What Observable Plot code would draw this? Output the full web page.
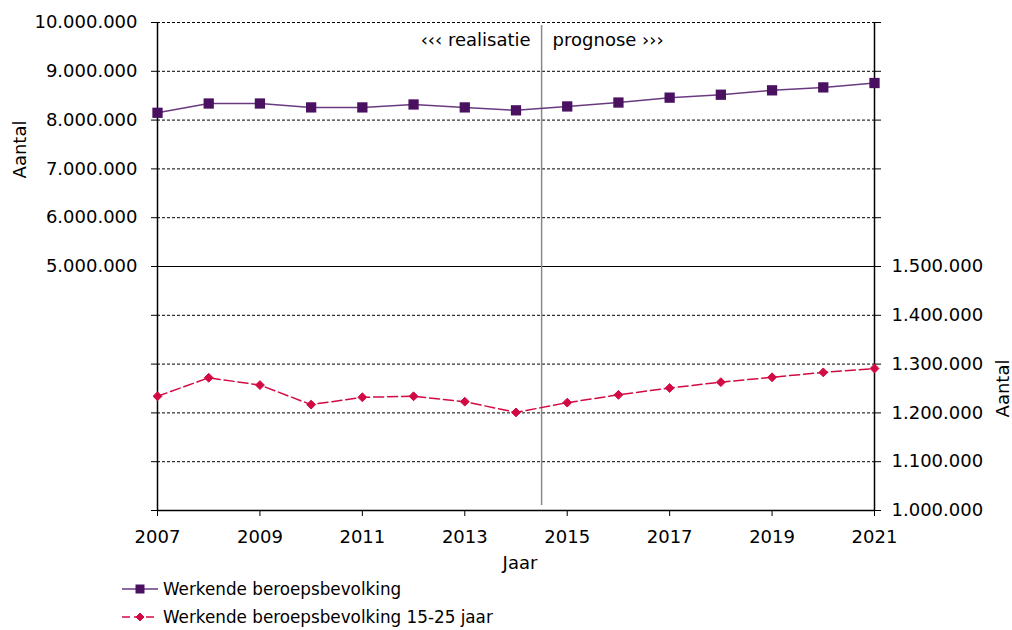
<!DOCTYPE html>
<html>
<head>
<meta charset="utf-8">
<script src="https://cdn.jsdelivr.net/npm/d3@7"></script>
<script src="https://cdn.jsdelivr.net/npm/@observablehq/plot@0.6"></script>
<style>
  html, body { margin: 0; padding: 0; background: #fff; }
  body { width: 1012px; height: 630px; overflow: hidden; font-family: "DejaVu Sans", Verdana, sans-serif; }
  #legend { padding-left: 122px; font-size: 16.8px; color: #000; }
  .row { height: 28px; display: flex; align-items: center; }
  .row svg { margin-right: 5px; }
</style>
</head>
<body>
<div id="chart"></div>
<div id="legend"></div>
<script>
const years = [2007, 2008, 2009, 2010, 2011, 2012, 2013, 2014, 2015, 2016, 2017, 2018, 2019, 2020, 2021];
const werkende = [8150000, 8340000, 8340000, 8260000, 8260000, 8320000, 8260000, 8200000, 8280000, 8360000, 8460000, 8520000, 8610000, 8670000, 8760000];
const jongeren = [1234000, 1272000, 1257000, 1217000, 1232000, 1234000, 1223000, 1201000, 1221000, 1237000, 1251000, 1263000, 1273000, 1283000, 1291000];
const xTicks = [2007, 2009, 2011, 2013, 2015, 2017, 2019, 2021];
const yTicks = [0, 1000000, 2000000, 3000000, 4000000, 5000000, 6000000, 7000000, 8000000, 9000000, 10000000];
const seriesNames = ["Werkende beroepsbevolking", "Werkende beroepsbevolking 15-25 jaar"];

const purple = "#4b1161";
const purpleLine = "#6a3a80";
const red = "#d20a43";

const rows = years.map((y, i) => ({year: y, werkende: werkende[i], jongeren: jongeren[i]}));
// right axis: 1.000.000 .. 1.500.000 occupies the lower half of the left 0..10.000.000 scale
const toLeft = v => (v - 1000000) * 10;
const toRight = v => 1000000 + v / 10;

const fmt = d3.formatLocale({decimal: ",", thousands: ".", grouping: [3], currency: ["", ""]}).format(",");

const chart = Plot.plot({
  width: 1012,
  height: 575,
  marginLeft: 157,
  marginRight: 138,
  marginTop: 22,
  marginBottom: 65,
  style: {fontFamily: "DejaVu Sans, Verdana, sans-serif", fontSize: "18px", color: "#000", background: "#fff", overflow: "visible"},
  x: {domain: [2007, 2021]},
  y: {domain: [0, 10000000]},
  marks: [
    Plot.ruleY(yTicks.filter(d => d > 0 && d !== 5000000), {stroke: "#000", strokeDasharray: "3,2", strokeWidth: 1}),
    Plot.ruleY([5000000], {stroke: "#000", strokeWidth: 1.2}),
    Plot.ruleX([2014.5], {y1: 100000, y2: 9940000, stroke: "#8a8a8a", strokeWidth: 1.5}),
    Plot.axisX(xTicks, {tickSize: 6, tickPadding: 14, tickFormat: d => String(d), label: null, fontSize: 18}),
    Plot.axisY(yTicks, {anchor: "left", tickSize: 6, tickPadding: 14, tickFormat: d => d >= 5000000 ? fmt(d) : "", label: null, fontSize: 18}),
    Plot.axisY(yTicks, {anchor: "right", tickSize: 6, tickPadding: 11, tickFormat: d => d <= 5000000 ? fmt(toRight(d)) : "", label: null, fontSize: 18}),
    Plot.ruleX([2007, 2021], {stroke: "#000", strokeWidth: 1.5}),
    Plot.ruleY([0], {stroke: "#000", strokeWidth: 1.5}),
    Plot.line(rows, {x: "year", y: "werkende", stroke: purpleLine, strokeWidth: 1.5}),
    Plot.dot(rows, {x: "year", y: "werkende", symbol: "square", r: 5.8, fill: purple, stroke: "none"}),
    Plot.line(rows, {x: "year", y: d => toLeft(d.jongeren), stroke: red, strokeWidth: 1.5, strokeDasharray: "10,4"}),
    Plot.dot(rows, {x: "year", y: d => toLeft(d.jongeren), symbol: "diamond2", r: 4, fill: red, stroke: red, strokeWidth: 1}),
    Plot.text(["‹‹‹ realisatie"], {x: 2014.5, y: 9630000, dx: -11, textAnchor: "end", fontSize: 18}),
    Plot.text(["prognose ›››"], {x: 2014.5, y: 9630000, dx: 11, textAnchor: "start", fontSize: 18}),
    Plot.text(["Jaar"], {frameAnchor: "bottom", dx: 4, dy: 53, textAnchor: "middle", lineAnchor: "middle", fontSize: 18}),
    Plot.text(["Aantal"], {frameAnchor: "top-left", dx: -137, dy: 127, rotate: -90, textAnchor: "middle", lineAnchor: "middle", fontSize: 18}),
    Plot.text(["Aantal"], {frameAnchor: "top-right", dx: 129, dy: 366, rotate: -90, textAnchor: "middle", lineAnchor: "middle", fontSize: 18})
  ]
});
document.getElementById("chart").appendChild(chart);

// legend
const legend = d3.select("#legend");
seriesNames.forEach((name, i) => {
  const row = legend.append("div").attr("class", "row");
  const sw = row.append("svg").attr("width", 36).attr("height", 14);
  if (i === 0) {
    sw.append("line").attr("x1", 0).attr("x2", 36).attr("y1", 7).attr("y2", 7).attr("stroke", purpleLine).attr("stroke-width", 1.5);
    sw.append("rect").attr("x", 13.5).attr("y", 2.5).attr("width", 9).attr("height", 9).attr("fill", purple);
  } else {
    sw.append("line").attr("x1", 0).attr("x2", 36).attr("y1", 7).attr("y2", 7).attr("stroke", red).attr("stroke-width", 1.5).attr("stroke-dasharray", "8,4");
    sw.append("path").attr("d", d3.symbol(d3.symbolDiamond2, 40)()).attr("transform", "translate(18,7)").attr("fill", red).attr("stroke", red);
  }
  row.append("span").text(name);
});
</script>
</body>
</html>
